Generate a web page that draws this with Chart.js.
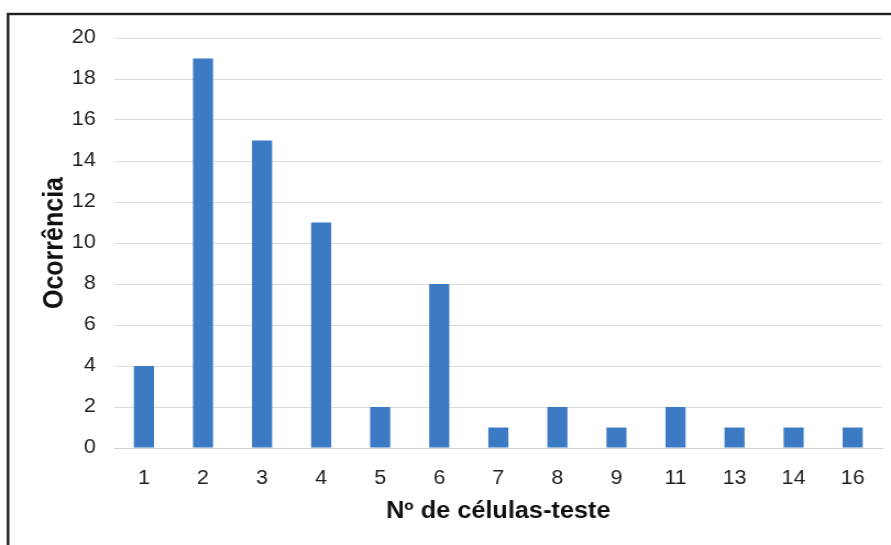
<!DOCTYPE html>
<html>
<head>
<meta charset="utf-8">
<script src="https://cdn.jsdelivr.net/npm/chart.js@4"></script>
<style>
  html, body { margin: 0; padding: 0; background: #ffffff; overflow: hidden; }
  /* the figure is laid out 810 px wide and widened to the 891 px page */
  #wrap { width: 810px; height: 545px; transform: scaleX(1.1); transform-origin: 0 0; }
</style>
</head>
<body>
<div id="wrap"><canvas id="c" width="810" height="545"></canvas></div>
<script>
// Number of test cells and how often each occurred
const categories = ['1', '2', '3', '4', '5', '6', '7', '8', '9', '11', '13', '14', '16'];
const occurrences = [4, 19, 15, 11, 2, 8, 1, 2, 1, 2, 1, 1, 1];
const yTicks = [0, 2, 4, 6, 8, 10, 12, 14, 16, 18, 20];

const FONT = "'Liberation Sans', Arial, sans-serif";

// Dark frame around the whole figure
const framePlugin = {
  id: 'frame',
  afterDraw(chart) {
    const ctx = chart.ctx;
    ctx.save();
    ctx.strokeStyle = '#1f1f1f';
    ctx.lineWidth = 2.4;
    ctx.strokeRect(7.3, 14, 900, 560);
    ctx.restore();
  }
};

new Chart(document.getElementById('c'), {
  type: 'bar',
  data: {
    labels: categories,
    datasets: [{
      data: occurrences,
      backgroundColor: '#3c7ac3',
      borderWidth: 0,
      categoryPercentage: 1,
      barPercentage: 0.34
    }]
  },
  options: {
    responsive: false,
    animation: false,
    devicePixelRatio: 1,
    layout: { padding: { left: 20, right: 8, top: 38, bottom: 20 } },
    plugins: {
      legend: { display: false },
      tooltip: { enabled: false }
    },
    scales: {
      x: {
        grid: { display: false, drawTicks: false },
        border: { display: true, color: '#d0d0d0', width: 1 },
        ticks: {
          color: '#1e1e1e',
          font: { family: FONT, size: 19.5 },
          padding: 19
        },
        title: {
          display: true,
          text: 'Nº de células-teste',
          color: '#111111',
          font: { family: FONT, size: 23, weight: 'bold' },
          padding: { top: 0, bottom: 0 }
        },
        afterFit(scale) { scale.height = 77; }
      },
      y: {
        min: 0,
        max: 20,
        afterBuildTicks(scale) { scale.ticks = yTicks.map(v => ({ value: v })); },
        grid: { color: '#dcdcdc', lineWidth: 1, drawTicks: false },
        border: { display: false },
        ticks: {
          color: '#1e1e1e',
          font: { family: FONT, size: 19.5 },
          padding: 17
        },
        title: {
          display: true,
          text: 'Ocorrência',
          color: '#111111',
          font: { family: FONT, size: 25, weight: 'bold' },
          padding: { top: 15, bottom: 0 }
        },
        afterFit(scale) { scale.width = 84; }
      }
    }
  },
  plugins: [framePlugin]
});
</script>
</body>
</html>
